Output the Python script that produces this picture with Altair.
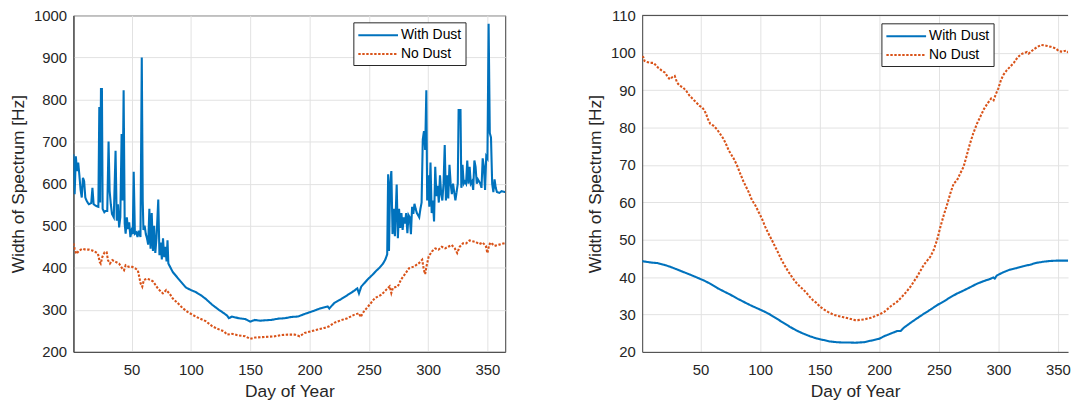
import altair as alt
import pandas as pd

# ---------------- data ----------------
SERIES = ["With Dust", "No Dust"]
COLORS = ["#0072BD", "#D95319"]
X_TICKS = [50, 100, 150, 200, 250, 300, 350]
LEFT_Y_TICKS = [200, 300, 400, 500, 600, 700, 800, 900, 1000]
RIGHT_Y_TICKS = [20, 30, 40, 50, 60, 70, 80, 90, 100, 110]

LEFT_WITH_DUST = [
    (1, 670), (2, 575), (3, 665), (4, 630), (5, 650), (6, 620), (7, 585), (8, 567), (9, 614), (10, 606),
    (11, 567), (12, 560), (13, 555), (14, 551), (16, 554), (17, 590), (18, 551), (20, 547), (22, 545),
    (22.8, 782), (23.5, 555), (24.2, 825), (25, 825), (25.6, 540), (27, 532), (28, 535), (29.5, 535),
    (30.6, 700), (31.5, 583), (32.5, 551), (33.5, 528), (35, 520), (36.5, 678), (37.5, 512), (38.5, 551),
    (39.5, 496), (40.5, 520), (41.6, 718), (42.4, 560), (43.3, 822), (44.2, 505), (45, 481), (46, 520),
    (47, 492), (48, 508), (49, 473), (50, 488), (51, 480), (51.8, 628), (52.8, 481), (54, 484), (55, 473),
    (56, 488), (57.5, 473), (58.6, 900), (59.4, 560), (60, 490), (61, 500), (62, 480), (63, 470), (64, 455),
    (65, 540), (66, 445), (67, 530), (68, 440), (69, 500), (70, 435), (71, 470), (72.5, 562), (73.5, 430),
    (74.5, 460), (75.5, 420), (76.5, 470), (77.5, 425), (78.5, 450), (79.5, 415), (80.3, 465), (81, 410),
    (84.7, 390), (90.3, 371), (95.8, 353), (100, 347), (104.2, 342), (108.3, 335), (112.5, 326), (118, 312),
    (123.6, 300), (127.8, 292), (130.6, 286), (132, 280), (134.7, 284), (140.3, 280), (145.8, 278),
    (150, 272), (154, 276), (158.3, 274), (162.5, 275), (168, 276), (173.6, 279), (179.2, 280), (184.7, 283),
    (190.3, 284), (195.8, 290), (200, 294), (204, 298), (209.7, 304), (215.3, 308), (216.7, 303),
    (220.8, 316), (226.4, 325), (232, 335), (237.5, 345), (240.3, 351), (241.7, 339), (243.6, 355),
    (248.6, 371), (253, 383), (256, 392), (259, 400), (262, 410), (264, 420), (265.5, 432), (266.3, 622),
    (267, 440), (268, 600), (269, 630), (270, 480), (271, 540), (272, 475), (273.5, 598), (274.5, 470),
    (275.5, 540), (276.5, 495), (277.5, 530), (278.5, 490), (279.5, 520), (280.5, 505), (281.5, 530),
    (282.5, 482), (283.5, 525), (284.5, 520), (285.5, 480), (286.5, 545), (287.5, 528), (288.5, 552),
    (289.5, 540), (290.5, 530), (291.5, 525), (292.5, 520), (293.5, 540), (294.5, 555), (295.5, 705),
    (296.5, 725), (297.5, 680), (298.5, 822), (299.2, 560), (300, 620), (301, 545), (302, 650), (303, 530),
    (304, 560), (305, 510), (306, 640), (307, 570), (308, 595), (309, 555), (310, 620), (311, 575),
    (312, 560), (313, 600), (314, 692), (315, 560), (316, 620), (317, 565), (318, 645), (319, 600),
    (320, 575), (321, 600), (322, 580), (323, 560), (324, 580), (325, 600), (325.7, 775), (327.3, 775),
    (328, 590), (329, 645), (330, 600), (331, 605), (332, 600), (333, 655), (334, 600), (335, 640),
    (336, 600), (337, 605), (338, 585), (339, 655), (340, 640), (341, 600), (342, 610), (343, 605),
    (344, 600), (345, 590), (346, 660), (347, 640), (348, 585), (349, 665), (350, 660), (351, 980),
    (352, 720), (353, 710), (354, 600), (355, 580), (356, 610), (357, 590), (358, 580), (360, 578),
    (362, 582), (365, 580),
]

LEFT_NO_DUST = [
    (1, 458), (2, 445), (3.5, 433), (5.8, 441), (8.6, 445), (11.4, 443), (14.2, 443), (17, 441),
    (19.8, 437), (21.7, 433), (23.1, 414), (24, 410), (25.4, 426), (27.3, 437), (29, 437), (30.1, 418),
    (31.8, 410), (33.8, 418), (36.6, 414), (39.4, 410), (42.2, 398), (43.6, 394), (45, 406), (47.8, 402),
    (50.6, 402), (53.4, 398), (55.3, 394), (57.6, 363), (59, 355), (60.4, 371), (63.2, 374), (66, 371),
    (68.2, 367), (70.2, 359), (72.1, 351), (73.8, 346), (76.4, 339), (79.2, 347), (81.9, 339), (84.7, 327),
    (88.9, 316), (93.1, 304), (97.2, 295), (101.4, 288), (106.9, 280), (112.5, 273), (118, 261),
    (122.2, 255), (127.8, 249), (130.6, 241), (134.7, 243), (140.3, 239), (145.8, 237), (150, 231),
    (154.2, 234), (159.7, 235), (165.3, 236), (170.8, 237), (176.4, 240), (181.9, 241), (187.5, 241),
    (191.7, 237), (195.8, 245), (201.4, 249), (206.9, 253), (212.5, 257), (216.7, 261), (220.8, 269),
    (226.4, 275), (231.9, 280), (237.5, 288), (241.7, 292), (243.1, 283), (245.8, 296), (249.7, 309),
    (255.2, 328), (260.7, 336), (264.8, 348), (267.6, 356), (269, 340), (270.3, 352), (274.5, 356),
    (277.2, 372), (280, 383), (284, 399), (288.2, 403), (292.3, 411), (295, 419), (296.4, 395),
    (297.5, 385), (298.6, 403), (300.5, 427), (303.3, 439), (306, 446), (308.8, 443), (311.5, 450),
    (314.3, 446), (317, 450), (319.8, 454), (322.5, 446), (324.5, 435), (326.6, 450), (329.4, 458),
    (332, 458), (335, 465), (337.6, 463), (340.4, 461), (343, 456), (345.9, 460), (348.6, 452),
    (350, 435), (351.4, 454), (352.7, 460), (356, 452), (360, 455), (365, 459),
]

RIGHT_WITH_DUST = [
    (1, 44.3), (2.2, 44.2), (8.3, 43.9), (13.9, 43.75), (19.4, 43.3), (25, 42.7), (30.6, 42.0),
    (36.1, 41.3), (41.7, 40.6), (47.2, 39.85), (52.8, 39.1), (58.3, 38.2), (63.9, 37.1), (69.4, 36.2),
    (75, 35.3), (80.6, 34.3), (86.1, 33.4), (91.7, 32.5), (97.2, 31.7), (102.8, 30.9), (108.3, 30.0),
    (113.9, 28.9), (119.4, 27.8), (125, 26.7), (130.6, 25.7), (136.1, 24.9), (141.7, 24.2), (147.2, 23.6),
    (152.8, 23.2), (158.3, 22.8), (163.9, 22.6), (169.4, 22.5), (175, 22.5), (180, 22.45), (187.5, 22.6),
    (193, 23.0), (200, 23.5), (204.2, 24.2), (209.7, 24.9), (215.3, 25.6), (218, 25.6), (220.8, 26.5),
    (226.4, 27.8), (231.9, 29.0), (237.5, 30.2), (243, 31.3), (248.6, 32.5), (254.2, 33.5), (259.7, 34.6),
    (265.3, 35.6), (270.8, 36.4), (276.4, 37.3), (281.9, 38.2), (287.5, 38.9), (293, 39.5), (295.8, 39.9),
    (297, 39.6), (298.6, 40.4), (304.2, 41.3), (309.7, 42.0), (315.3, 42.4), (320.8, 42.9), (326.4, 43.3),
    (331.9, 43.8), (337.5, 44.1), (343.1, 44.3), (348.6, 44.4), (354.2, 44.4), (359.7, 44.4), (365, 44.4),
]

RIGHT_NO_DUST = [
    (1, 99.1), (2, 98.8), (3, 97.8), (4.2, 97.6), (7.5, 97.3), (10.3, 97.3), (11.7, 96.9), (14.4, 96.0),
    (17.2, 95.3), (20, 94.7), (22.8, 93.4), (24.2, 92.9), (26.4, 93.5), (28.3, 93.8), (30.3, 92.0),
    (32.5, 91.2), (35.3, 90.7), (38, 89.8), (40.8, 88.5), (43.6, 87.6), (46.4, 86.7), (49.2, 85.8),
    (51.4, 85.4), (53.3, 84.5), (54.7, 83.6), (56.1, 82.3), (58.1, 81.0), (60.8, 80.5), (63.6, 79.6),
    (66.4, 78.3), (69.2, 77.0), (71.9, 75.2), (73.6, 73.9), (77.8, 71.7), (80.6, 69.9), (83.3, 67.7),
    (86.1, 65.5), (90.3, 62.8), (93.1, 60.6), (95.8, 59.3), (98.6, 57.5), (101.4, 55.7), (104.2, 53.5),
    (106.9, 51.7), (109.7, 50.0), (112.5, 48.2), (115.3, 46.4), (118, 44.6), (120.8, 43.0), (123.6, 41.5),
    (126.4, 40.2), (129.2, 38.9), (133.3, 37.5), (136.1, 36.7), (138.9, 35.8), (141.7, 34.7), (144.4, 33.8),
    (147.2, 33.1), (150, 32.2), (152.8, 31.5), (156.9, 30.7), (161.1, 30.0), (165.3, 29.6), (169.4, 29.3),
    (175, 28.9), (179.7, 28.5), (182, 28.5), (187.5, 28.7), (193, 29.1), (200, 30.0), (204.2, 30.7),
    (209.7, 32.2), (215.3, 33.5), (220.8, 35.3), (226.4, 37.5), (231.9, 40.2), (237.5, 43.3), (243, 45.5),
    (245.8, 47.3), (248.6, 50.0), (251.4, 53.5), (254.2, 56.6), (256.9, 59.3), (259.7, 62.4), (262.5, 65.0),
    (265.3, 65.9), (268, 67.7), (270.8, 69.5), (273, 72.0), (276, 75.5), (279, 78.5), (282, 81.0),
    (285, 83.0), (288, 85.0), (291, 86.5), (294, 87.8), (296, 87.3), (298, 89.0), (300, 90.5), (302, 92.5),
    (304, 94.0), (307, 95.3), (310, 96.3), (313, 97.3), (316, 98.7), (319, 99.6), (322, 100.0),
    (324, 100.2), (325.5, 99.8), (327, 100.2), (330, 101.0), (333, 101.6), (336, 102.1), (340, 101.9),
    (344, 101.6), (348, 101.2), (351, 100.4), (354, 100.3), (357, 100.6), (360, 99.8), (365, 99.5),
]

# ---------------- styling ----------------
FONT = "Liberation Sans"
TEXT = "#262626"
FRAME = "#3c3c3c"
GRID = "#e2e2e2"
PLOT_H = 339


def long_frame(with_dust, no_dust):
    rows = [{"day": d, "width": v, "series": SERIES[0]} for d, v in with_dust]
    rows += [{"day": d, "width": v, "series": SERIES[1]} for d, v in no_dust]
    return pd.DataFrame(rows)


def make_legend(lx, ly):
    return alt.Legend(
        title=None, orient="none", legendX=lx, legendY=ly, direction="vertical",
        symbolType="M-1,0H4", symbolSize=256, symbolStrokeWidth=2,
        labelOffset=26, padding=4, rowPadding=3, cornerRadius=0,
        fillColor="white", strokeColor=TEXT,
        labelFont=FONT, labelFontSize=14, labelColor="black",
    )


def line_layer(df, x_domain, y_domain, y_ticks, lx, ly):
    leg = make_legend(lx, ly)
    return alt.Chart(df).mark_line(strokeWidth=2.1, clip=True, strokeCap="butt").encode(
        x=alt.X("day:Q",
                scale=alt.Scale(domain=x_domain, nice=False, zero=False),
                axis=alt.Axis(values=X_TICKS, title="Day of Year", format="d",
                              labelPadding=11, titlePadding=5, labelFlush=False)),
        y=alt.Y("width:Q",
                scale=alt.Scale(domain=y_domain, nice=False, zero=False),
                axis=alt.Axis(values=y_ticks, title="Width of Spectrum [Hz]", format="d",
                              labelPadding=7, titlePadding=6, labelFlush=False)),
        color=alt.Color("series:N", scale=alt.Scale(domain=SERIES, range=COLORS), legend=leg),
        strokeDash=alt.StrokeDash("series:N",
                                  scale=alt.Scale(domain=SERIES, range=[[1, 0], [2.4, 1.6]]),
                                  legend=leg),
    )


left_df = long_frame(LEFT_WITH_DUST, LEFT_NO_DUST)
right_df = long_frame(RIGHT_WITH_DUST, RIGHT_NO_DUST)

left = line_layer(left_df, [1, 365], [200, 1000], LEFT_Y_TICKS, 282, 7).properties(
    width=435, height=PLOT_H)

RIGHT_W = 429
right_lines = line_layer(right_df, [1, 1 + RIGHT_W / 1.2], [20, 110], RIGHT_Y_TICKS, 241, 8)
top_edge = alt.Chart(pd.DataFrame({"edge": ["top"]})).mark_rule(color=FRAME, strokeWidth=1).encode(
    x=alt.value(0), x2=alt.value(RIGHT_W), y=alt.value(0))
right = alt.layer(right_lines, top_edge).properties(
    width=RIGHT_W, height=PLOT_H, view=alt.ViewBackground(stroke="transparent"))

chart = alt.hconcat(left, right, spacing=80).resolve_scale(
    x="independent", y="independent", color="independent", strokeDash="independent"
).resolve_legend(
    color="independent", strokeDash="independent"
).properties(
    padding={"left": 9, "top": 6, "right": 0, "bottom": 0}, background="white"
).configure_axis(
    labelFont=FONT, labelFontSize=15, labelColor=TEXT,
    titleFont=FONT, titleFontSize=17.5, titleFontWeight="normal", titleColor=TEXT,
    gridColor=GRID, gridWidth=1, domainColor=FRAME, domainWidth=1, ticks=False,
).configure_view(stroke=FRAME, strokeWidth=1)

chart.save("out.html", embed_options={"renderer": "svg", "actions": False})
